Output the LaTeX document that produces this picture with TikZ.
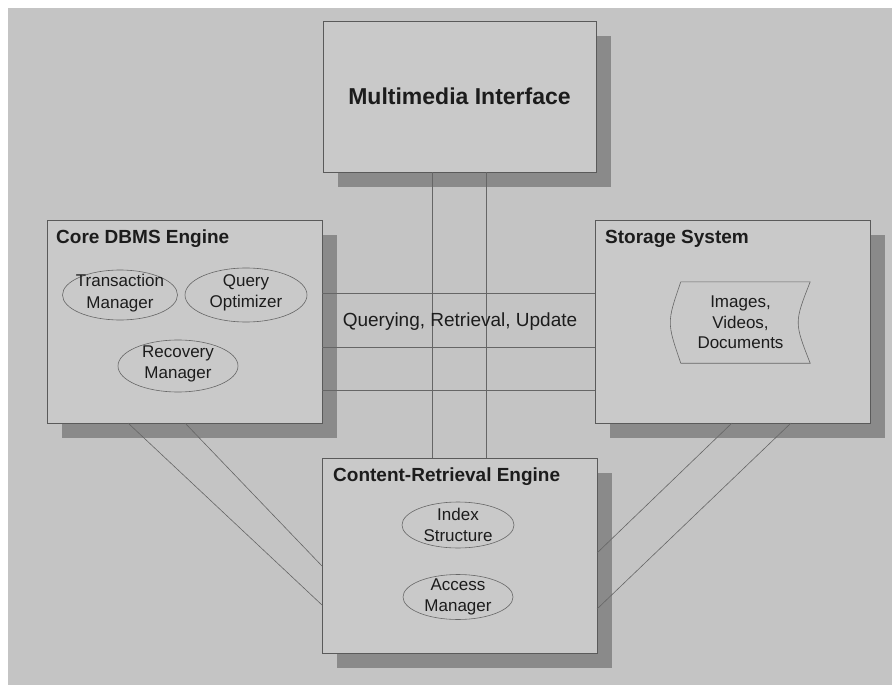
\documentclass[tikz,border=0pt]{standalone}
\usepackage{fontspec}
\setmainfont{Liberation Sans}
\usetikzlibrary{shadows,calc,shapes.geometric}
\definecolor{paper}{HTML}{C4C4C4}
\definecolor{panel}{HTML}{C9C9C9}
\definecolor{shade}{HTML}{8A8A8A}
\definecolor{edge}{HTML}{5A5A5A}
\definecolor{wirec}{HTML}{666666}
\definecolor{ink}{HTML}{1C1C1C}

\begin{document}
\begin{tikzpicture}[x=1bp,y=-1bp,
  panelbox/.style={draw=edge, line width=0.7bp, fill=panel, inner sep=0pt, outer sep=0pt,
    drop shadow={shadow xshift=15bp, shadow yshift=-15bp, fill=shade, opacity=1}},
  paneltitle/.style={anchor=west, inner sep=0pt, text=ink,
    font=\fontsize{19bp}{21bp}\selectfont\bfseries},
  part/.style={ellipse, draw=wirec, line width=0.6bp, inner sep=0pt, outer sep=0pt},
  parttext/.style={align=center, inner sep=0pt, text=ink,
    font=\fontsize{17bp}{21.5bp}\selectfont},
  wire/.style={draw=wirec, line width=0.6bp},
]
% page and backdrop
\useasboundingbox (0,0) rectangle (892,685);
\fill[white] (0,0) rectangle (892,685);
\fill[paper] (8,8) rectangle (892,685);

% the four subsystems
\node[panelbox, minimum width=273bp, minimum height=151bp] (mi) at (459.5,96.5) {};
\node[panelbox, minimum width=275bp, minimum height=203bp] (core) at (184.5,321.5) {};
\node[panelbox, minimum width=275bp, minimum height=203bp] (stor) at (732.5,321.5) {};
\node[panelbox, minimum width=275bp, minimum height=195bp] (cr) at (459.5,555.5) {};

% connectors between the subsystems
\path (mi.south) ++(-27,0) coordinate (v1);
\path (mi.south) ++(27,0) coordinate (v2);
\draw[wire] (v1) -- (v1 |- cr.north);
\draw[wire] (v2) -- (v2 |- cr.north);

\path (core.east) ++(0,-28.5) coordinate (h1);
\path (core.east) ++(0,25.5) coordinate (h2);
\path (core.east) ++(0,68.5) coordinate (h3);
\draw[wire] (h1) -- (h1 -| stor.west);
\draw[wire] (h2) -- (h2 -| stor.west);
\draw[wire] (h3) -- (h3 -| stor.west);

\path (core.south west) ++(81,0) coordinate (c1);
\path (core.south west) ++(138,0) coordinate (c2);
\path (cr.north west) ++(0,147) coordinate (r1);
\path (cr.north west) ++(0,108) coordinate (r2);
\draw[wire] (c1) -- (r1);
\draw[wire] (c2) -- (r2);

\path (stor.south west) ++(137,0) coordinate (s1);
\path (stor.south west) ++(196,0) coordinate (s2);
\path (cr.north east) ++(0,95) coordinate (e1);
\path (cr.north east) ++(0,151) coordinate (e2);
\draw[wire] (s1) -- (e1);
\draw[wire] (s2) -- (e2);

% titles
\node[inner sep=0pt, text=ink, font=\fontsize{23bp}{25bp}\selectfont\bfseries] (mit) at (mi.center) {Multimedia Interface};
\node[paneltitle] (coret) at ($(core.north west)+(9,19)$) {Core DBMS Engine};
\node[paneltitle] (stort) at ($(stor.north west)+(10,19)$) {Storage System};
\node[paneltitle] (crt) at ($(cr.north west)+(11,19)$) {Content-Retrieval Engine};

\node[inner sep=0pt, text=ink, font=\fontsize{19bp}{21bp}\selectfont] (qru) at (460,322) {Querying, Retrieval, Update};

% components of the core engine
\node[part, minimum width=115bp, minimum height=50bp] (tm) at (120,295) {};
\node[parttext] at ($(tm.center)+(0,-2)$) {Transaction\\Manager};
\node[part, minimum width=122bp, minimum height=54bp] (qo) at (246,295) {};
\node[parttext] at ($(qo.center)+(0,-2)$) {Query\\Optimizer};
\node[part, minimum width=120bp, minimum height=52bp] (rm) at (178,366) {};
\node[parttext] at ($(rm.center)+(0,-2)$) {Recovery\\Manager};

% components of the content-retrieval engine
\node[part, minimum width=112bp, minimum height=46bp] (is) at (458,525) {};
\node[parttext] at (is.center) {Index\\Structure};
\node[part, minimum width=110bp, minimum height=45bp] (am) at (458,597) {};
\node[parttext] at (am.center) {Access\\Manager};

% stored media
\node[minimum width=129bp, minimum height=81bp, inner sep=0pt] (media) at (745.5,322.5) {};
\draw[wirec, line width=0.6bp] (media.north west) -- (media.north east)
  .. controls ($(media.east)+(-16,0)$) .. (media.south east)
  -- (media.south west)
  .. controls ($(media.west)+(-14,0)$) .. (media.north west);
\node[parttext, font=\fontsize{17bp}{20.5bp}\selectfont] at ($(media.center)+(-5,0)$) {Images,\\Videos,\\Documents};
\end{tikzpicture}
\end{document}
